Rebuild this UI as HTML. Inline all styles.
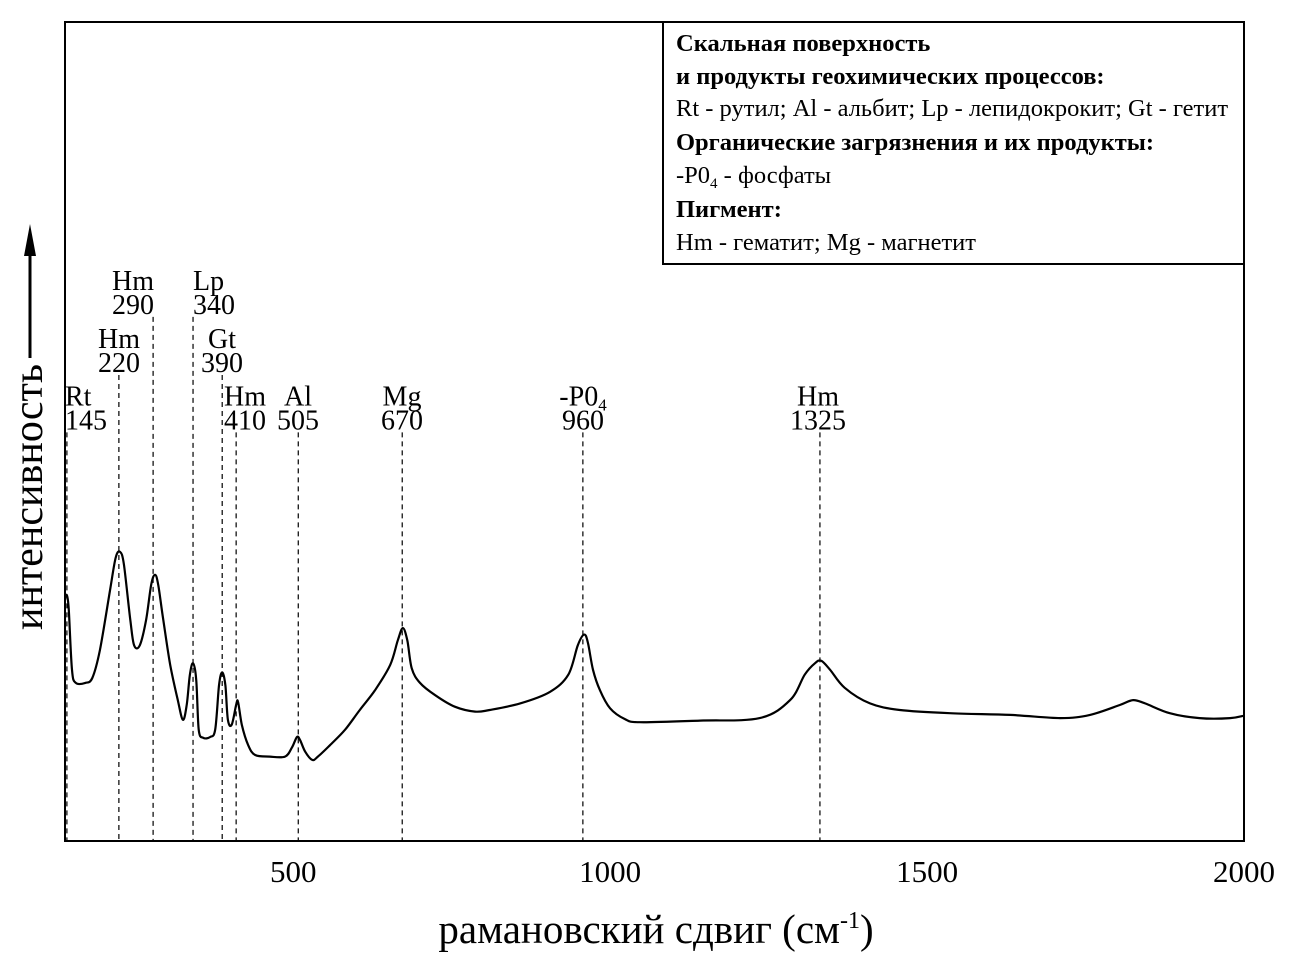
<!DOCTYPE html>
<html><head><meta charset="utf-8">
<style>
html,body{margin:0;padding:0;background:#fff;}
svg{display:block;font-family:"Liberation Serif","DejaVu Serif",serif;}
</style></head>
<body>
<svg id="chart" width="1289" height="972" viewBox="0 0 1289 972">
<g id="peaks"></g>
<path id="curve" fill="none" stroke="#000" stroke-width="2.2" stroke-linejoin="round"/>
<rect x="65" y="22" width="1179" height="819" fill="none" stroke="#000" stroke-width="2"/>
<g id="xticks"></g>
<text x="656" y="943" font-size="41" text-anchor="middle">рамановский сдвиг (см<tspan dy="-15" font-size="24">-1</tspan><tspan dy="15">)</tspan></text>
<g>
<text transform="translate(42,497) rotate(-90)" font-size="42" text-anchor="middle">интенсивность</text>
<line x1="30" y1="358" x2="30" y2="250" stroke="#000" stroke-width="3"/>
<polygon points="30,224 24,256 36,256" fill="#000"/>
</g>
<g>
<rect x="663" y="22" width="581" height="242" fill="#fff" stroke="#000" stroke-width="2"/>
<text x="676" y="51" font-size="24.5" font-weight="bold">Скальная поверхность</text>
<text x="676" y="84" font-size="24.5" font-weight="bold">и продукты геохимических процессов:</text>
<text x="676" y="116" font-size="24.5">Rt - рутил; Al - альбит; Lp - лепидокрокит; Gt - гетит</text>
<text x="676" y="150" font-size="24.5" font-weight="bold">Органические загрязнения и их продукты:</text>
<text x="676" y="183" font-size="24.5">-P0<tspan font-size="15" dy="5">4</tspan><tspan dy="-5"> - фосфаты</tspan></text>
<text x="676" y="217" font-size="24.5" font-weight="bold">Пигмент:</text>
<text x="676" y="250" font-size="24.5">Hm - гематит; Mg - магнетит</text>
</g>
</svg>
<script>
const xTicks=[500,1000,1500,2000];
const wn=[140,143,146,151,157,172,183,195,211,220,227,233,243,249,258,268,276,282,287,295,306,318,326,332,337,342,347,351,358,369,377,383,388,393,397,403,410,413,419,429,440,463,487,498,506,511,519,530,539,558,582,605,629,653,665,673,680,687,700,724,755,787,810,858,905,934,949,959,965,973,984,1000,1023,1047,1142,1236,1284,1307,1323,1333,1347,1370,1410,1457,1536,1631,1710,1757,1804,1825,1844,1883,1930,1978,2000];
const inten=[29.7,30.0,28.2,20.9,19.3,19.3,19.9,23.3,30.6,34.6,35.3,33.7,27.0,23.9,23.9,27.0,31.3,32.5,31.3,27.0,21.5,17.2,14.8,16.6,20.3,21.7,19.7,13.6,12.6,12.7,13.6,19.0,20.6,19.0,14.8,14.2,16.6,17.0,14.2,11.7,10.5,10.3,10.3,11.4,12.7,12.3,10.9,9.9,10.3,11.7,13.6,16.0,18.4,21.5,24.5,26.0,24.5,21.1,19.3,17.8,16.4,15.8,16.0,16.8,18.2,20.3,23.9,25.2,24.2,20.9,18.4,16.2,14.9,14.5,14.7,15.0,17.2,20.3,21.7,22.0,20.9,18.7,16.8,16.0,15.6,15.4,15.0,15.4,16.6,17.2,16.8,15.6,15.0,15.0,15.3];
const peakPos=[143,225,279,342,388,410,508,672,957,1331];
const peakTop=[49.9,56.9,64.0,64.0,56.9,49.9,49.9,49.9,49.9,49.9];
const peakName=["Rt","Hm","Hm","Lp","Gt","Hm","Al","Mg","-P0","Hm"];
const peakVal=["145","220","290","340","390","410","505","670","960","1325"];
const labelX=[65,119,154,193,222,224,298,402,583,818];
const labelAnchor=["start","middle","end","start","middle","start","middle","middle","middle","middle"];
const X0=140,X1=2000,PX0=65,PX1=1244,PY0=841,PY1=22;
const sx=v=>PX0+(v-X0)/(X1-X0)*(PX1-PX0);
const sy=v=>PY0-v/100*(PY0-PY1);
const NS="http://www.w3.org/2000/svg";
const pts=wn.map((w,i)=>[sx(w),sy(inten[i])]);
let d="M"+pts[0][0].toFixed(1)+","+pts[0][1].toFixed(1);
for(let i=0;i<pts.length-1;i++){
 const p0=pts[Math.max(0,i-1)],p1=pts[i],p2=pts[i+1],p3=pts[Math.min(pts.length-1,i+2)];
 const c1=[p1[0]+(p2[0]-p0[0])/6,p1[1]+(p2[1]-p0[1])/6];
 const c2=[p2[0]-(p3[0]-p1[0])/6,p2[1]-(p3[1]-p1[1])/6];
 d+="C"+c1[0].toFixed(1)+","+c1[1].toFixed(1)+" "+c2[0].toFixed(1)+","+c2[1].toFixed(1)+" "+p2[0].toFixed(1)+","+p2[1].toFixed(1);
}
document.getElementById("curve").setAttribute("d",d);
const xt=document.getElementById("xticks");
xTicks.forEach(t=>{
 const tx=document.createElementNS(NS,"text");
 
 
 tx.setAttribute("x",sx(t));tx.setAttribute("y",882);
 tx.setAttribute("font-size","31");tx.setAttribute("text-anchor","middle");
 tx.textContent=t;xt.appendChild(tx);
});
const pg=document.getElementById("peaks");
peakPos.forEach((p,i)=>{
 const x=sx(p),y=sy(peakTop[i]);
 const ln=document.createElementNS(NS,"line");
 
 
 ln.setAttribute("x1",x);ln.setAttribute("x2",x);ln.setAttribute("y1",y);ln.setAttribute("y2",PY0);
 ln.setAttribute("stroke","#000");ln.setAttribute("stroke-width","1.2");ln.setAttribute("stroke-dasharray","5,4");
 pg.appendChild(ln);
 const t1=document.createElementNS(NS,"text");
 
 
 t1.setAttribute("x",labelX[i]);t1.setAttribute("y",y-27);t1.setAttribute("font-size","28");t1.setAttribute("text-anchor",labelAnchor[i]);
 t1.textContent=peakName[i];
 if(peakName[i]==="-P0"){const s=document.createElementNS(NS,"tspan");s.setAttribute("font-size","17");s.setAttribute("dy","5");s.textContent="4";t1.appendChild(s);}
 pg.appendChild(t1);
 const t2=document.createElementNS(NS,"text");
 
 
 t2.setAttribute("x",labelX[i]);t2.setAttribute("y",y-3);t2.setAttribute("font-size","28");t2.setAttribute("text-anchor",labelAnchor[i]);
 t2.textContent=peakVal[i];pg.appendChild(t2);
});
</script>
</body></html>
